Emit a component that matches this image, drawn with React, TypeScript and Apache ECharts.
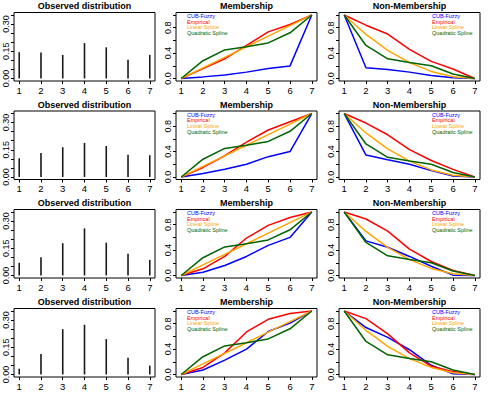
import React, { useEffect, useRef } from "react";
import * as echarts from "echarts";

const xValues = [1, 2, 3, 4, 5, 6, 7];

const obsRow1 = [0.145, 0.143, 0.13, 0.195, 0.172, 0.103, 0.13];
const obsRow2 = [0.103, 0.132, 0.164, 0.188, 0.171, 0.123, 0.12];
const obsRow3 = [0.07, 0.101, 0.178, 0.26, 0.181, 0.12, 0.086];
const obsRow4 = [0.032, 0.113, 0.25, 0.274, 0.195, 0.092, 0.049];

const linearMem = [0, 0.167, 0.333, 0.5, 0.667, 0.833, 1];
const quadMem = [0, 0.28, 0.45, 0.5, 0.56, 0.72, 1];
const linearNon = [1, 0.694, 0.444, 0.25, 0.111, 0.028, 0];
const quadNon = [1, 0.52, 0.31, 0.25, 0.2, 0.07, 0];

const cubMem1 = [0, 0.025, 0.056, 0.1, 0.157, 0.198, 1];
const cubMem2 = [0, 0.055, 0.12, 0.2, 0.32, 0.4, 1];
const cubMem3 = [0, 0.05, 0.157, 0.3, 0.475, 0.6, 1];
const cubMem4 = [0, 0.07, 0.227, 0.4, 0.677, 0.81, 1];

const empMem1 = [0, 0.155, 0.31, 0.52, 0.735, 0.85, 1];
const empMem2 = [0, 0.15, 0.335, 0.55, 0.74, 0.87, 1];
const empMem3 = [0, 0.105, 0.3, 0.59, 0.79, 0.915, 1];
const empMem4 = [0, 0.11, 0.34, 0.67, 0.87, 0.96, 1];

const cubNon1 = [1, 0.168, 0.14, 0.1, 0.045, 0.01, 0];
const cubNon2 = [1, 0.345, 0.27, 0.2, 0.1, 0.015, 0];
const cubNon3 = [1, 0.545, 0.445, 0.3, 0.145, 0.005, 0];
const cubNon4 = [1, 0.74, 0.585, 0.39, 0.145, 0.01, 0];

const empNon1 = [1, 0.84, 0.7, 0.46, 0.27, 0.15, 0];
const empNon2 = [1, 0.85, 0.665, 0.43, 0.26, 0.12, 0];
const empNon3 = [1, 0.89, 0.7, 0.415, 0.22, 0.08, 0];
const empNon4 = [1, 0.88, 0.64, 0.34, 0.13, 0.045, 0];

const seriesNames = ["CUB-Fuzzy", "Empirical", "Linear Spline", "Quadratic Spline"];
const seriesColors = ["#0000FF", "#FF0000", "#FFA500", "#006400"];
const panelTitles = ["Observed distribution", "Membership", "Non-Membership"];

const obsTicks = [0, 0.05, 0.1, 0.15, 0.2, 0.25, 0.3, 0.35];
const obsLabels = [0, 0.15, 0.3];
const memTicks = [0, 0.2, 0.4, 0.6, 0.8, 1];
const memLabels = [0, 0.4, 0.8];

const observed = [obsRow1, obsRow2, obsRow3, obsRow4];
const membership = [
  [cubMem1, empMem1, linearMem, quadMem],
  [cubMem2, empMem2, linearMem, quadMem],
  [cubMem3, empMem3, linearMem, quadMem],
  [cubMem4, empMem4, linearMem, quadMem],
];
const nonMembership = [
  [cubNon1, empNon1, linearNon, quadNon],
  [cubNon2, empNon2, linearNon, quadNon],
  [cubNon3, empNon3, linearNon, quadNon],
  [cubNon4, empNon4, linearNon, quadNon],
];

const FONT = "'Liberation Sans', Arial, Helvetica, sans-serif";
const colLeft = [14, 176, 339];
const plotW = 141;
const rowTop = [12.5, 111, 209.5, 308.5];
const plotH = 68.5;

function buildOption() {
  const grid: any[] = [];
  const xAxis: any[] = [];
  const yAxis: any[] = [];
  const series: any[] = [];
  const graphic: any[] = [];

  for (let r = 0; r < 4; r++) {
    for (let c = 0; c < 3; c++) {
      const gi = r * 3 + c;
      const left = colLeft[c];
      const top = rowTop[r];
      grid.push({
        left,
        top,
        width: plotW,
        height: plotH,
        show: true,
        borderColor: "#000",
        borderWidth: 1,
        backgroundColor: "transparent",
      });
      xAxis.push({
        type: "value",
        gridIndex: gi,
        min: 0.76,
        max: 7.24,
        axisLine: { show: false, onZero: false },
        axisTick: {
          show: true,
          customValues: xValues,
          length: 3,
          lineStyle: { color: "#000", width: 1 },
        },
        axisLabel: {
          show: true,
          customValues: xValues,
          fontSize: 9.5,
          color: "#000",
          margin: 4,
          fontFamily: FONT,
          formatter: (v: number) => String(v),
        },
        splitLine: { show: false },
      });
      const isObs = c === 0;
      yAxis.push({
        type: "value",
        gridIndex: gi,
        min: isObs ? -0.014 : -0.04,
        max: isObs ? 0.364 : 1.04,
        axisLine: { show: false, onZero: false },
        axisTick: {
          show: true,
          customValues: isObs ? obsTicks : memTicks,
          length: 3,
          lineStyle: { color: "#000", width: 1 },
        },
        axisLabel: {
          show: true,
          customValues: isObs ? obsLabels : memLabels,
          rotate: 90,
          fontSize: 9,
          color: "#000",
          margin: 4,
          fontFamily: FONT,
          formatter: (v: number) => (isObs ? v.toFixed(2) : v.toFixed(1)),
        },
        splitLine: { show: false },
      });

      graphic.push({
        type: "text",
        x: left + plotW / 2,
        y: top - 6.5,
        style: {
          text: panelTitles[c],
          fill: "#000",
          font: `bold 9px ${FONT}`,
          textAlign: "center",
          textVerticalAlign: "middle",
        },
      });

      if (isObs) {
        series.push({
          type: "bar",
          xAxisIndex: gi,
          yAxisIndex: gi,
          barWidth: 1.6,
          itemStyle: { color: "#1a1a1a" },
          data: xValues.map((x, k) => [x, observed[r][k]]),
        });
      } else {
        const sets = c === 1 ? membership[r] : nonMembership[r];
        sets.forEach((vals, s) => {
          series.push({
            type: "line",
            name: seriesNames[s],
            xAxisIndex: gi,
            yAxisIndex: gi,
            showSymbol: false,
            symbol: "none",
            lineStyle: { color: seriesColors[s], width: 1.5 },
            itemStyle: { color: seriesColors[s] },
            data: xValues.map((x, k) => [x, vals[k]]),
          });
        });
        const legX = c === 1 ? left + 11 : left + 93;
        seriesNames.forEach((nm, s) => {
          graphic.push({
            type: "text",
            x: legX,
            y: top + 3.5 + s * 5.7,
            style: {
              text: nm,
              fill: seriesColors[s],
              font: `5.5px ${FONT}`,
              textAlign: "left",
              textVerticalAlign: "middle",
            },
          });
        });
      }
    }
  }

  return {
    animation: false,
    backgroundColor: "#fff",
    grid,
    xAxis,
    yAxis,
    series,
    graphic,
  };
}

export default function App() {
  const ref = useRef<HTMLDivElement>(null);
  useEffect(() => {
    if (!ref.current) return;
    const chart = echarts.init(ref.current, undefined, { renderer: "svg" });
    chart.setOption(buildOption() as any);
    return () => chart.dispose();
  }, []);
  return (
    <div
      ref={ref}
      style={{ position: "absolute", left: 0, top: 0, width: 488, height: 394, background: "#fff" }}
    />
  );
}
